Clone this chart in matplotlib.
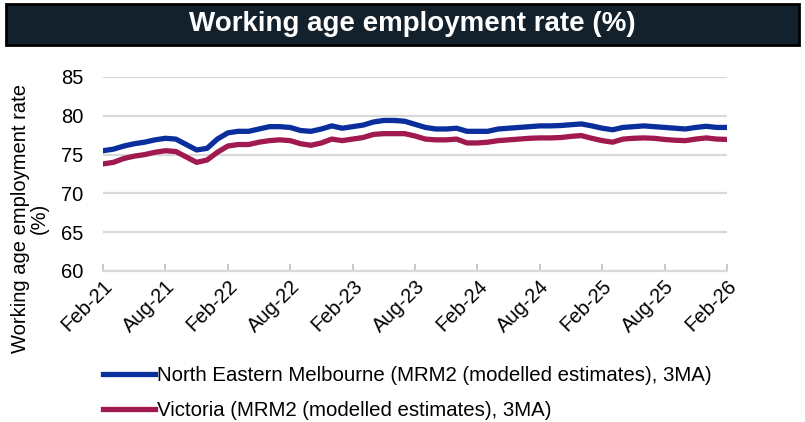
import matplotlib.pyplot as plt
from matplotlib.patches import Rectangle
import numpy as np

plt.rcParams['font.family'] = ['Liberation Sans', 'DejaVu Sans']

# monthly data, Feb-21 .. Feb-26
months = np.arange(61)
tick_labels = ['Feb-21', 'Aug-21', 'Feb-22', 'Aug-22', 'Feb-23', 'Aug-23',
               'Feb-24', 'Aug-24', 'Feb-25', 'Aug-25', 'Feb-26']

ne_melb = [75.5, 75.7, 76.1, 76.4, 76.6, 76.9, 77.1, 77.0, 76.3, 75.6,
           75.8, 77.0, 77.8, 78.0, 78.0, 78.3, 78.6, 78.6, 78.5, 78.1,
           78.0, 78.3, 78.7, 78.4, 78.6, 78.8, 79.2, 79.4, 79.4, 79.3,
           78.9, 78.5, 78.3, 78.3, 78.4, 78.0, 78.0, 78.0, 78.3, 78.4,
           78.5, 78.6, 78.7, 78.7, 78.75, 78.85, 78.95, 78.7, 78.4, 78.2,
           78.5, 78.6, 78.7, 78.6, 78.5, 78.4, 78.3, 78.5, 78.65, 78.5,
           78.5]
victoria = [73.8, 74.0, 74.5, 74.8, 75.0, 75.3, 75.5, 75.4, 74.7, 74.0,
            74.3, 75.3, 76.1, 76.3, 76.3, 76.6, 76.8, 76.9, 76.8, 76.4,
            76.2, 76.5, 77.0, 76.8, 77.0, 77.2, 77.6, 77.7, 77.7, 77.7,
            77.4, 77.0, 76.9, 76.9, 77.0, 76.5, 76.5, 76.6, 76.8, 76.9,
            77.0, 77.1, 77.15, 77.15, 77.2, 77.35, 77.45, 77.1, 76.8, 76.6,
            77.0, 77.1, 77.15, 77.1, 76.95, 76.85, 76.8, 77.0, 77.15, 77.0,
            76.95]

fig = plt.figure(figsize=(8.05, 4.22), dpi=100)

# title bar
fig.patches.append(Rectangle((6/805, 1-45/422), 793/805, 41/422, transform=fig.transFigure,
                             facecolor='#13212d', edgecolor='black', linewidth=2))
fig.text(0.512, 1-24/422, 'Working age employment rate (%)', color='white',
         fontsize=20, fontweight='bold', ha='center', va='center')

ax = fig.add_axes([103/805, 1-271/422, 624/805, 194/422])
ax.plot(months, ne_melb, color='#0a2f9c', lw=3.8,
        label='North Eastern Melbourne (MRM2 (modelled estimates), 3MA)')
ax.plot(months, victoria, color='#a0194f', lw=3.8,
        label='Victoria (MRM2 (modelled estimates), 3MA)')

ax.set_xlim(0, 60)
ax.set_ylim(60, 85)
ax.set_yticks(np.arange(60, 86, 5))
ax.set_xticks(months[::6])
ax.set_xticklabels(tick_labels, rotation=45, ha='right', rotation_mode='anchor')
ax.tick_params(axis='x', direction='in', length=5, color='#bfbfbf', width=1.2,
               labelsize=14.5, pad=4)
ax.tick_params(axis='y', length=0, labelsize=14.5, pad=14)
ax.grid(axis='y', color='#d9d9d9', lw=1.6)
ax.set_axisbelow(True)
for s in ['top', 'right', 'left']:
    ax.spines[s].set_visible(False)
ax.spines['bottom'].set_color('#d9d9d9')
ax.spines['bottom'].set_linewidth(1.6)

ax.set_ylabel('Working age employment rate\n(%)', fontsize=14.5, linespacing=0.95)
ax.yaxis.set_label_coords(-0.087, 0.27)

ax.legend(loc='upper left', bbox_to_anchor=(-0.013, -0.45), frameon=False, fontsize=14.7,
          handlelength=2.55, handletextpad=0.1, labelspacing=0.75, borderaxespad=0)

fig.savefig('out.png', dpi=100)
